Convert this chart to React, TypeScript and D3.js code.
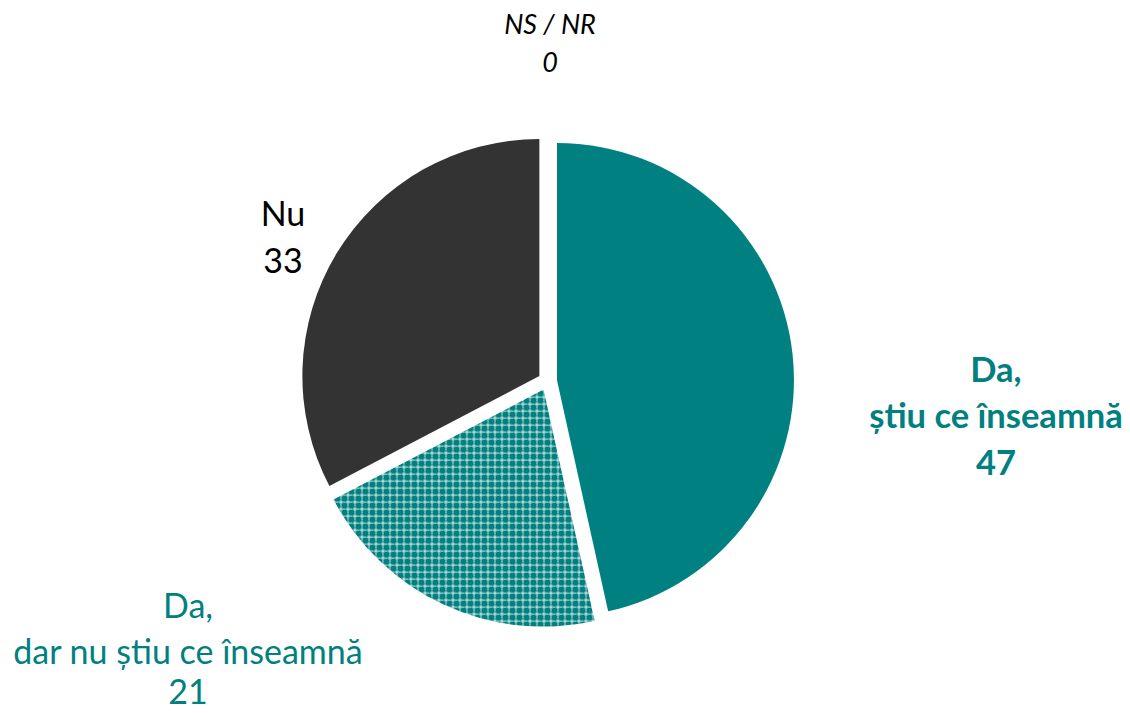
import React from "react";
import * as d3 from "d3";

const categories = ["Da, știu ce înseamnă", "Da, dar nu știu ce înseamnă", "Nu", "NS / NR"];
const values = [47, 21, 33, 0];

const W = 1130;
const H = 713;
const TEAL = "#008080";
const DARK = "#333333";

export default function App() {
  const cx = 547.5;
  const cy = 381;
  const r = 237;
  const explode = 9.5;
  const pie = d3.pie<number>().sort(null).value((d) => d).startAngle(0).endAngle(2 * Math.PI);
  const arcs = pie(values);
  const arc = d3.arc<d3.PieArcDatum<number>>().innerRadius(0).outerRadius(r);
  const fills = [TEAL, "url(#grid)", DARK, "#999"];
  const font = "Lato, 'Open Sans', sans-serif";
  return (
    <svg width={W} height={H} style={{ position: "absolute", left: 0, top: 0, background: "#fff" }}>
      <defs>
        <pattern id="grid" width={7} height={7} patternUnits="userSpaceOnUse">
          <rect width={7} height={7} fill={TEAL} />
          <rect x={0} y={0} width={7} height={1} fill="#86c4c2" />
          <rect x={0} y={0} width={1} height={7} fill="#86c4c2" />
          <rect x={0} y={0} width={1} height={1} fill="#ffffff" />
          <rect x={3} y={0} width={1} height={1} fill="#ffffff" />
          <rect x={0} y={3} width={1} height={1} fill="#ffffff" />
          <rect x={1} y={1} width={1} height={1} fill="#a0d0ce" />
          <rect x={6} y={1} width={1} height={1} fill="#a0d0ce" />
          <rect x={1} y={6} width={1} height={1} fill="#a0d0ce" />
          <rect x={6} y={6} width={1} height={1} fill="#a0d0ce" />
        </pattern>
      </defs>
      <g transform={`translate(${cx},${cy})`}>
        {arcs.map((a, i) => {
          if (a.endAngle - a.startAngle <= 0) return null;
          const mid = (a.startAngle + a.endAngle) / 2;
          const dx = explode * Math.sin(mid);
          const dy = -explode * Math.cos(mid);
          return (
            <path key={categories[i]} d={arc(a) || ""} fill={fills[i]} transform={`translate(${dx},${dy})`} />
          );
        })}
      </g>
      <g fontFamily={font} textAnchor="middle">
        <text x={996} fontSize={34.5} fontWeight="bold" fill={TEAL}>
          <tspan x={996} y={382}>Da,</tspan>
          <tspan x={996} y={428}>știu ce înseamnă</tspan>
          <tspan x={996} y={475}>{values[0]}</tspan>
        </text>
        <text x={188} fontSize={34} fill={TEAL}>
          <tspan x={188} y={618}>Da,</tspan>
          <tspan x={188} y={664}>dar nu știu ce înseamnă</tspan>
          <tspan x={188} y={704}>{values[1]}</tspan>
        </text>
        <text x={283} fontSize={34} fill="#000">
          <tspan x={283} y={226}>Nu</tspan>
          <tspan x={283} y={273}>{values[2]}</tspan>
        </text>
        <text x={550} fontSize={27} fontStyle="italic" fill="#000">
          <tspan x={550} y={34}>NS / NR</tspan>
          <tspan x={550} y={72}>{values[3]}</tspan>
        </text>
      </g>
    </svg>
  );
}
